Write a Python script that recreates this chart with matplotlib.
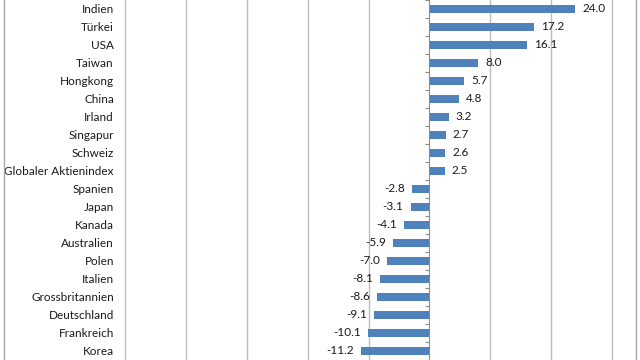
import matplotlib.pyplot as plt
import numpy as np
from matplotlib.lines import Line2D

plt.rcParams['font.family'] = ['Lato', 'DejaVu Sans']

countries = ['Indien', 'Türkei', 'USA', 'Taiwan', 'Hongkong', 'China', 'Irland',
             'Singapur', 'Schweiz', 'Globaler Aktienindex', 'Spanien', 'Japan',
             'Kanada', 'Australien', 'Polen', 'Italien', 'Grossbritannien',
             'Deutschland', 'Frankreich', 'Korea']
perf = [24.0, 17.2, 16.1, 8.0, 5.7, 4.8, 3.2, 2.7, 2.6, 2.5,
        -2.8, -3.1, -4.1, -5.9, -7.0, -8.1, -8.6, -9.1, -10.1, -11.2]

figure = plt.figure(figsize=(6.4, 3.6), dpi=100)
ax = figure.add_axes([125/640, 0, (612-125)/640, 1])

y = np.arange(len(countries))
bars = ax.barh(y, perf, height=0.42, color='#4f81bd', zorder=3)
ax.bar_label(bars, fmt='%.1f', padding=5, fontsize=8.5, color='#1a1a1a')

# rows: Indien centre at 4.5 px from top, step ~18.44 px
step = 18.44
ax.set_ylim(len(countries) - 1 + (360 - 4.5 - (len(countries) - 1) * step) / step, -4.5 / step)
ax.set_xlim(-50, 30)

# vertical gridlines
for gx in [-50, -40, -30, -20, -10, 10, 20, 30]:
    ax.axvline(gx, color='#bdbdbd', lw=1, zorder=1, clip_on=False)

# category axis at zero with small tick marks between rows
for s in ['top', 'right', 'bottom']:
    ax.spines[s].set_visible(False)
ax.spines['left'].set_position(('data', 0))
ax.spines['left'].set_color('#8c8c8c')
ax.spines['left'].set_zorder(4)
ax.set_yticks(np.arange(len(countries) + 1) - 0.5)
ax.set_yticklabels([])
ax.tick_params(axis='y', length=3, direction='out', color='#8c8c8c')
ax.set_xticks([])

sec = ax.secondary_yaxis('left')
sec.set_yticks(y, labels=countries)
sec.tick_params(length=0, pad=8, labelsize=8.5, labelcolor='#1a1a1a')
sec.spines['left'].set_visible(False)

ax.patch.set_alpha(0)

# outer chart border (left/right)
figure.add_artist(Line2D([4/640, 4/640], [0, 1], color='#a6a6a6', lw=1))
figure.add_artist(Line2D([636/640, 636/640], [0, 1], color='#a6a6a6', lw=1))

plt.savefig('out.png', dpi=100)
